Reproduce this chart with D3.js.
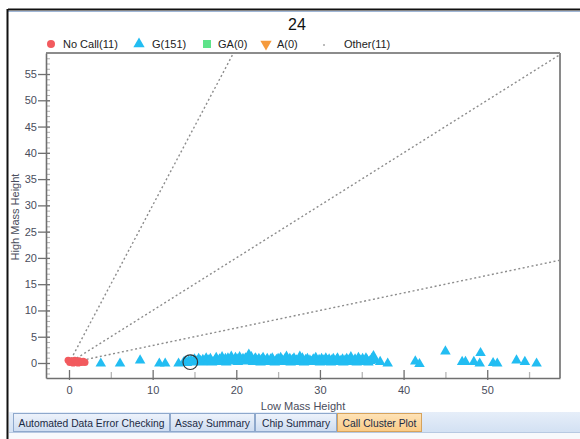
<!DOCTYPE html>
<html>
<head>
<meta charset="utf-8">
<script src="https://cdn.jsdelivr.net/npm/d3@7"></script>
<style>
  html, body { margin: 0; padding: 0; background: #fff; }
  svg { display: block; }
  text { font-family: "Liberation Sans", Arial, sans-serif; }
</style>
</head>
<body>
<svg id="chart" width="580" height="439"></svg>
<script>
// ---- data ----
const title = "24";
const legendItems = [
  { label: "No Call(11)", kind: "circle" },
  { label: "G(151)", kind: "triangle" },
  { label: "GA(0)", kind: "square" },
  { label: "A(0)", kind: "down" },
  { label: "Other(11)", kind: "dot" }
];
const xTicks = [0, 10, 20, 30, 40, 50];
const xMinorTicks = [5, 15, 25, 35, 45, 55];
const yTicks = [0, 5, 10, 15, 20, 25, 30, 35, 40, 45, 50, 55];
const yMinorTicks = d3.range(-2, 59, 1);
const ratioLines = [3, 1, 1 / 3];      // High/Low ratio guides through the origin
const tabs = ["Automated Data Error Checking", "Assay Summary", "Chip Summary", "Call Cluster Plot"];

// No Call points [low, high]
const noCallPts = [
  [-0.1, 0.5], [0.1, 0.1], [0.3, 0.4], [0.5, 0.0], [0.7, 0.5], [0.9, 0.2],
  [1.1, 0.0], [1.2, 0.4], [1.5, 0.1], [1.7, 0.3], [1.9, 0.1]
];
// Other points [low, high]
const otherPts = [
  [0.2, 0.2], [0.4, 0.1], [0.6, 0.3], [0.8, 0.2], [1.0, 0.1], [1.2, 0.2],
  [0.3, 0.3], [0.5, 0.2], [0.9, 0.3], [1.3, 0.1], [1.6, 0.2]
];
// G points [low, high]
const gPts = [
  [3.8, 0.0], [6.1, 0.0], [8.5, 0.6], [10.8, 0.0], [11.5, 0.0], [13.1, 0.0],
  [13.7, 0.2], [13.9, 0.4], [14.1, 0.1], [14.3, 0.5], [14.5, 0.3], [14.6, 0.6],
  [14.8, 0.2], [15.0, 0.8], [15.2, 0.4], [15.3, 0.3], [15.5, 0.9], [15.7, 0.5],
  [15.9, 0.2], [16.0, 0.7], [16.2, 0.4], [16.4, 1.0], [16.6, 0.3], [16.7, 0.6],
  [16.9, 0.9], [17.1, 0.2], [17.4, 0.5], [17.6, 1.1], [17.8, 0.4], [18.0, 0.8],
  [18.1, 0.3], [18.3, 1.2], [18.5, 0.6], [18.7, 0.9], [18.8, 0.2], [19.0, 1.0],
  [19.2, 0.5], [19.4, 1.3], [19.5, 0.7], [19.7, 0.4], [19.9, 1.1], [20.1, 0.8],
  [20.2, 0.3], [20.4, 1.2], [20.6, 0.6], [20.8, 0.9], [20.9, 0.5], [21.1, 1.0],
  [21.3, 0.4], [21.5, 1.7], [21.6, 0.7], [21.8, 1.2], [22.0, 0.3], [22.2, 0.8],
  [22.3, 1.0], [22.5, 0.5], [22.7, 0.9], [22.9, 0.2], [23.0, 0.7], [23.2, 1.1],
  [23.4, 0.4], [23.6, 0.6], [23.7, 0.9], [23.9, 0.3], [24.1, 0.8], [24.3, 1.0],
  [24.4, 0.5], [24.6, 0.2], [24.8, 0.7], [25.0, 0.9], [25.1, 0.4], [25.3, 1.1],
  [25.5, 0.6], [25.7, 0.3], [25.8, 0.8], [26.0, 1.3], [26.2, 0.5], [26.4, 0.9],
  [26.5, 0.2], [26.7, 0.7], [26.9, 1.0], [27.1, 0.4], [27.2, 0.6], [27.4, 0.3],
  [27.6, 1.3], [27.8, 0.5], [27.9, 1.0], [28.1, 0.2], [28.3, 0.7], [28.5, 0.9],
  [28.6, 0.4], [28.8, 0.6], [29.0, 0.3], [29.2, 0.8], [29.3, 0.5], [29.5, 1.1],
  [29.7, 0.4], [29.9, 0.7], [30.0, 0.2], [30.2, 0.9], [30.4, 0.6], [30.6, 0.3],
  [30.7, 1.0], [30.9, 0.5], [31.1, 0.8], [31.3, 0.2], [31.4, 0.6], [31.6, 0.9],
  [31.8, 0.4], [32.0, 0.7], [32.1, 1.0], [32.3, 0.3], [32.5, 0.5], [32.7, 0.8],
  [32.8, 0.2], [33.0, 0.6], [33.2, 0.9], [33.4, 0.4], [33.5, 0.7], [33.7, 1.2],
  [33.9, 0.3], [34.1, 0.5], [34.2, 0.8], [34.4, 0.2], [34.6, 1.1], [34.8, 0.6],
  [34.9, 0.4], [35.1, 0.9], [35.3, 0.3], [35.5, 1.0], [35.6, 0.7], [35.8, 0.2],
  [36.0, 0.5], [36.2, 0.9], [36.4, 1.4], [36.6, 0.6], [37.2, 0.3],
  [38.1, 0.0], [41.4, 0.4], [41.9, -0.1], [45.0, 2.3], [47.0, 0.3], [47.4, 0.3],
  [48.4, 0.3], [49.2, 2.0], [49.1, 0.0], [50.7, 0.1], [51.2, 0.0], [53.5, 0.6],
  [54.5, 0.3], [55.9, 0.0]
];
// highlighted sample
const selectedPt = [14.5, 0.15];

// ---- styles ----
const colors = { noCall: "#f25a5e", g: "#22bdf2", ga: "#5ee38a", a: "#f59a3c", other: "#555" };
const axisColor = "#707070";
const labelColor = "#4a4d5c";

const svg = d3.select("#chart");

// window frame
svg.append("line").attr("x1", 8).attr("x2", 580).attr("y1", 9.5).attr("y2", 9.5)
  .attr("stroke", "#111").attr("stroke-width", 2);
svg.append("line").attr("x1", 8).attr("x2", 580).attr("y1", 11.5).attr("y2", 11.5)
  .attr("stroke", "#9fb6d6").attr("stroke-width", 1);
svg.append("line").attr("x1", 7.5).attr("x2", 7.5).attr("y1", 9).attr("y2", 439)
  .attr("stroke", "#111").attr("stroke-width", 2);

// plot geometry
const plot = { left: 46, right: 560, top: 53, bottom: 378 };
const x = d3.scaleLinear().domain([-2.75, 58.7]).range([plot.left, plot.right]);
const y = d3.scaleLinear().domain([-2.855, 59.0]).range([plot.bottom, plot.top]);

// title
svg.append("text").attr("x", 297).attr("y", 30).attr("text-anchor", "middle")
  .attr("font-size", 16).attr("fill", "#111").text(title);

// legend
const legendX = [51, 139, 207, 266, 324];
const legendTextX = [63, 152, 218, 277, 344];
const legY = 44;
legendItems.forEach((it, i) => {
  const cx = legendX[i];
  if (it.kind === "circle") {
    svg.append("circle").attr("cx", cx).attr("cy", legY).attr("r", 4).attr("fill", colors.noCall);
  } else if (it.kind === "triangle") {
    svg.append("path").attr("transform", `translate(${cx},${legY})`)
      .attr("d", d3.symbol(d3.symbolTriangle, 55)()).attr("fill", colors.g);
  } else if (it.kind === "square") {
    svg.append("rect").attr("x", cx - 4).attr("y", legY - 4).attr("width", 8).attr("height", 8)
      .attr("fill", colors.ga);
  } else if (it.kind === "down") {
    svg.append("path").attr("transform", `translate(${cx},${legY}) rotate(180)`)
      .attr("d", d3.symbol(d3.symbolTriangle, 55)()).attr("fill", colors.a);
  } else {
    svg.append("circle").attr("cx", cx).attr("cy", legY + 1).attr("r", 0.8).attr("fill", "#666");
  }
  svg.append("text").attr("x", legendTextX[i]).attr("y", legY + 4)
    .attr("font-size", 11).attr("fill", "#222").text(it.label);
});

// frame (top and right)
svg.append("line").attr("x1", plot.left).attr("x2", plot.right).attr("y1", plot.top).attr("y2", plot.top)
  .attr("stroke", "#666").attr("stroke-width", 1.5);
svg.append("line").attr("x1", plot.right).attr("x2", plot.right).attr("y1", plot.top).attr("y2", plot.bottom)
  .attr("stroke", "#8a8a8a").attr("stroke-width", 2);

// clip for data area
svg.append("defs").append("clipPath").attr("id", "plotClip")
  .append("rect").attr("x", plot.left).attr("y", plot.top)
  .attr("width", plot.right - plot.left).attr("height", plot.bottom - plot.top);
const area = svg.append("g").attr("clip-path", "url(#plotClip)");

// ratio guide lines
ratioLines.forEach(k => {
  const xEnd = 60;
  area.append("line")
    .attr("x1", x(0)).attr("y1", y(0))
    .attr("x2", x(xEnd)).attr("y2", y(k * xEnd))
    .attr("stroke", "#8c8c8c").attr("stroke-width", 1.4)
    .attr("stroke-dasharray", "2,2.5");
});

// axes: minor ticks
const yMinor = svg.append("g").attr("transform", `translate(${plot.left},0)`)
  .call(d3.axisRight(y).tickValues(yMinorTicks).tickSize(4).tickFormat(""));
yMinor.select(".domain").remove();
yMinor.selectAll("line").attr("stroke", "#b0b0b0");

const xMinor = svg.append("g").attr("transform", `translate(0,${plot.bottom})`)
  .call(d3.axisTop(x).tickValues(xMinorTicks).tickSize(6).tickFormat(""));
xMinor.select(".domain").remove();
xMinor.selectAll("line").attr("stroke", "#b5b5b5").attr("stroke-width", 1.3);

// y axis
const yAxis = svg.append("g").attr("transform", `translate(${plot.left},0)`)
  .call(d3.axisLeft(y).tickValues(yTicks).tickSize(8).tickPadding(1).tickSizeOuter(0));
yAxis.select(".domain").attr("stroke", axisColor).attr("stroke-width", 1.6);
yAxis.selectAll(".tick line").attr("x2", -8).attr("x1", 4).attr("stroke", axisColor).attr("stroke-width", 1.3);
yAxis.selectAll("text").attr("font-size", 11).attr("fill", labelColor)
  .attr("font-family", "Liberation Sans, Arial, sans-serif");

// x axis
const xAxis = svg.append("g").attr("transform", `translate(0,${plot.bottom})`)
  .call(d3.axisBottom(x).tickValues(xTicks).tickSize(2).tickPadding(6).tickSizeOuter(0));
xAxis.select(".domain").attr("stroke", axisColor).attr("stroke-width", 1.6);
xAxis.selectAll(".tick line").attr("y1", -8).attr("y2", 2).attr("stroke", axisColor).attr("stroke-width", 1.3);
xAxis.selectAll("text").attr("font-size", 11).attr("fill", labelColor)
  .attr("font-family", "Liberation Sans, Arial, sans-serif");

// axis titles
svg.append("text").attr("x", 303).attr("y", 410).attr("text-anchor", "middle")
  .attr("font-size", 11).attr("fill", labelColor).text("Low Mass Height");
svg.append("text").attr("transform", "translate(19,217) rotate(-90)").attr("text-anchor", "middle")
  .attr("font-size", 11).attr("fill", labelColor).text("High Mass Height");

// data points
area.selectAll(".other").data(otherPts).join("circle").attr("class", "other")
  .attr("cx", d => x(d[0])).attr("cy", d => y(d[1])).attr("r", 0.8).attr("fill", colors.other);

area.selectAll(".g").data(gPts).join("path").attr("class", "g")
  .attr("transform", d => `translate(${x(d[0])},${y(d[1]) + 0.5})`)
  .attr("d", d3.symbol(d3.symbolTriangle, 48)())
  .attr("fill", colors.g);

area.selectAll(".nc").data(noCallPts).join("circle").attr("class", "nc")
  .attr("cx", d => x(d[0])).attr("cy", d => y(d[1])).attr("r", 3.6)
  .attr("fill", colors.noCall);

// selection ring
svg.append("circle").attr("cx", x(selectedPt[0])).attr("cy", y(selectedPt[1]))
  .attr("r", 7.3).attr("fill", "none").attr("stroke", "#333").attr("stroke-width", 1.2);

// tab strip
const defs = svg.select("defs");
const gStrip = defs.append("linearGradient").attr("id", "strip").attr("x1", 0).attr("x2", 0).attr("y1", 0).attr("y2", 1);
gStrip.append("stop").attr("offset", 0).attr("stop-color", "#e6eef9");
gStrip.append("stop").attr("offset", 1).attr("stop-color", "#d3e1f3");
const gTab = defs.append("linearGradient").attr("id", "tab").attr("x1", 0).attr("x2", 0).attr("y1", 0).attr("y2", 1);
gTab.append("stop").attr("offset", 0).attr("stop-color", "#eef3fb");
gTab.append("stop").attr("offset", 1).attr("stop-color", "#cddcf1");
const gAct = defs.append("linearGradient").attr("id", "tabActive").attr("x1", 0).attr("x2", 0).attr("y1", 0).attr("y2", 1);
gAct.append("stop").attr("offset", 0).attr("stop-color", "#fee3b8");
gAct.append("stop").attr("offset", 1).attr("stop-color", "#fbcb86");

svg.append("rect").attr("x", 9).attr("y", 412).attr("width", 571).attr("height", 20)
  .attr("fill", "url(#strip)");
svg.append("line").attr("x1", 9).attr("x2", 580).attr("y1", 432.5).attr("y2", 432.5)
  .attr("stroke", "#b7c9e2");
svg.append("rect").attr("x", 9).attr("y", 433).attr("width", 571).attr("height", 6).attr("fill", "#f7f9fc");

const tabX = [13.5, 170.5, 255.5, 337.5];
const tabW = [156, 84, 81, 84];
tabs.forEach((t, i) => {
  const active = i === tabs.length - 1;
  svg.append("rect").attr("x", tabX[i]).attr("y", 413.5).attr("width", tabW[i]).attr("height", 18)
    .attr("fill", active ? "url(#tabActive)" : "url(#tab)")
    .attr("stroke", active ? "#d6a35c" : "#8ea8cc").attr("stroke-width", 1);
  svg.append("text").attr("x", tabX[i] + tabW[i] / 2).attr("y", 426.5).attr("text-anchor", "middle")
    .attr("font-size", 10.3).attr("fill", "#1b2a44").text(t);
});
</script>
</body>
</html>
